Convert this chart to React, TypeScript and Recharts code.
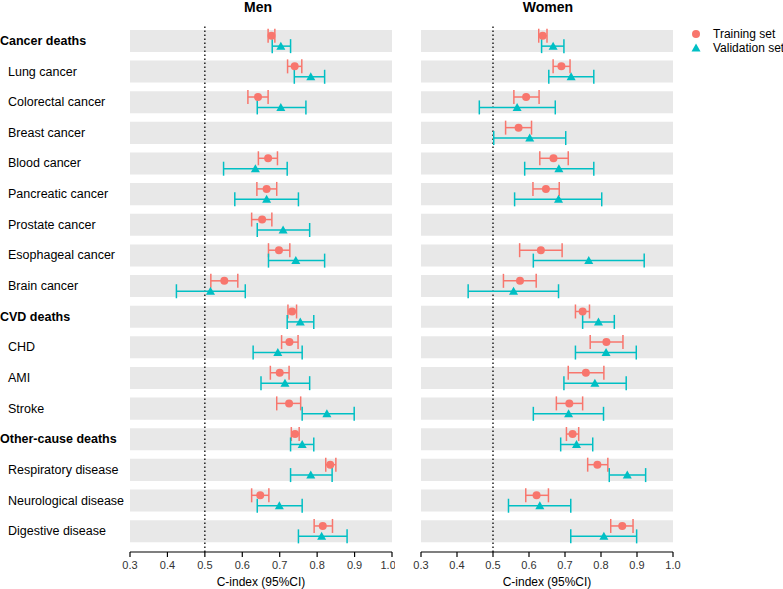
import {
  ErrorBar,
  ReferenceArea,
  ReferenceLine,
  Scatter,
  ScatterChart,
  XAxis,
  YAxis,
} from "recharts";

const RED = "#F8766D";
const TEAL = "#00BFC4";
const FONT = 'Arial, "Liberation Sans", sans-serif';

const labels = [
  "Cancer deaths",
  "Lung cancer",
  "Colorectal cancer",
  "Breast cancer",
  "Blood cancer",
  "Pancreatic cancer",
  "Prostate cancer",
  "Esophageal cancer",
  "Brain cancer",
  "CVD deaths",
  "CHD",
  "AMI",
  "Stroke",
  "Other-cause deaths",
  "Respiratory disease",
  "Neurological disease",
  "Digestive disease",
];
const groups = ["Cancer deaths", "CVD deaths", "Other-cause deaths"];
const xTicks = [0.3, 0.4, 0.5, 0.6, 0.7, 0.8, 0.9, 1.0];

// [estimate, lower, upper]; null = not estimated
type Est = [number, number, number] | null;

const menTrain: Est[] = [
  [0.678, 0.669, 0.687],
  [0.74, 0.721, 0.759],
  [0.642, 0.615, 0.669],
  null,
  [0.669, 0.643, 0.694],
  [0.665, 0.639, 0.692],
  [0.653, 0.625, 0.679],
  [0.698, 0.67, 0.727],
  [0.552, 0.516, 0.588],
  [0.733, 0.722, 0.745],
  [0.726, 0.705, 0.749],
  [0.7, 0.675, 0.725],
  [0.725, 0.692, 0.756],
  [0.741, 0.731, 0.752],
  [0.835, 0.823, 0.85],
  [0.648, 0.625, 0.671],
  [0.815, 0.792, 0.841],
];
const menValid: Est[] = [
  [0.703, 0.68, 0.729],
  [0.783, 0.739, 0.82],
  [0.703, 0.64, 0.77],
  null,
  [0.635, 0.55, 0.72],
  [0.665, 0.58, 0.75],
  [0.709, 0.64, 0.78],
  [0.743, 0.67, 0.82],
  [0.515, 0.424, 0.608],
  [0.755, 0.72, 0.791],
  [0.695, 0.629, 0.76],
  [0.714, 0.65, 0.78],
  [0.826, 0.76, 0.899],
  [0.76, 0.729, 0.791],
  [0.783, 0.729, 0.84],
  [0.699, 0.64, 0.76],
  [0.812, 0.75, 0.88],
];
const womenTrain: Est[] = [
  [0.638, 0.627, 0.65],
  [0.69, 0.667, 0.714],
  [0.592, 0.558, 0.628],
  [0.571, 0.535, 0.607],
  [0.668, 0.63, 0.709],
  [0.647, 0.611, 0.684],
  null,
  [0.633, 0.574, 0.692],
  [0.575, 0.529, 0.62],
  [0.749, 0.729, 0.768],
  [0.815, 0.77, 0.861],
  [0.758, 0.709, 0.808],
  [0.712, 0.676, 0.749],
  [0.721, 0.704, 0.738],
  [0.79, 0.763, 0.819],
  [0.621, 0.591, 0.654],
  [0.859, 0.827, 0.889],
];
const womenValid: Est[] = [
  [0.667, 0.635, 0.697],
  [0.717, 0.655, 0.78],
  [0.567, 0.462, 0.673],
  [0.602, 0.502, 0.702],
  [0.683, 0.588, 0.78],
  [0.682, 0.56, 0.802],
  null,
  [0.766, 0.612, 0.92],
  [0.557, 0.431, 0.682],
  [0.793, 0.749, 0.837],
  [0.814, 0.729, 0.898],
  [0.783, 0.697, 0.87],
  [0.71, 0.612, 0.807],
  [0.732, 0.688, 0.777],
  [0.873, 0.823, 0.924],
  [0.63, 0.543, 0.716],
  [0.808, 0.716, 0.899],
];

const build = (rows: Est[], shift: number) =>
  rows.flatMap((r, i) =>
    r ? [{ x: r[0], y: i + shift, err: [r[0] - r[1], r[2] - r[0]] }] : []
  );

const Circle = (p: any) => <circle cx={p.cx} cy={p.cy} r={4} fill={RED} />;
const Tri = (p: any) => (
  <path
    d={`M${p.cx},${p.cy - 4.5}L${p.cx + 4.5},${p.cy + 3.5}L${p.cx - 4.5},${p.cy + 3.5}Z`}
    fill={TEAL}
  />
);

const RowTick = (p: any) => {
  const name = labels[p.payload.value];
  const bold = groups.includes(name);
  return (
    <text
      x={bold ? 0 : 8}
      y={p.y}
      dy={4}
      textAnchor="start"
      fontSize={12.5}
      fontWeight={bold ? "bold" : "normal"}
      fill="#000"
      fontFamily={FONT}
    >
      {name}
    </text>
  );
};

const Panel = ({
  train,
  valid,
  showLabels,
  width,
  margin,
}: {
  train: Est[];
  valid: Est[];
  showLabels: boolean;
  width: number;
  margin: any;
}) => (
  <ScatterChart width={width} height={589} margin={margin}>
    {labels.map((_, i) => (
      <ReferenceArea
        key={i}
        x1={0.3}
        x2={1.0}
        y1={i - 0.36}
        y2={i + 0.36}
        fill="#E8E8E8"
        fillOpacity={1}
        stroke="none"
      />
    ))}
    <ReferenceLine x={0.5} stroke="#000" strokeDasharray="1.5 2.5" strokeWidth={1.3} />
    <XAxis
      type="number"
      dataKey="x"
      domain={[0.3, 1.0]}
      ticks={xTicks}
      tickFormatter={(v: number) => v.toFixed(1)}
      height={37}
      stroke="#000"
      strokeWidth={1.2}
      tickSize={5}
      tickMargin={4}
      tick={{ fontSize: 11, fill: "#333", fontFamily: FONT }}
      label={{
        value: "C-index (95%CI)",
        position: "insideBottom",
        offset: 0,
        dy: -3,
        fontSize: 12,
        fill: "#000",
        fontFamily: FONT,
      }}
    />
    <YAxis
      type="number"
      dataKey="y"
      domain={[-0.52, 16.68]}
      reversed
      ticks={labels.map((_, i) => i)}
      hide={!showLabels}
      width={130}
      axisLine={false}
      tickLine={false}
      tick={<RowTick />}
      interval={0}
    />
    <Scatter data={build(train, -0.17)} shape={<Circle />} isAnimationActive={false}>
      <ErrorBar dataKey="err" direction="x" width={7} stroke={RED} strokeWidth={1.5} />
    </Scatter>
    <Scatter data={build(valid, 0.17)} shape={<Tri />} isAnimationActive={false}>
      <ErrorBar dataKey="err" direction="x" width={7} stroke={TEAL} strokeWidth={1.5} />
    </Scatter>
  </ScatterChart>
);

export default function App() {
  const title = {
    position: "absolute" as const,
    top: -1,
    fontSize: 14,
    fontWeight: "bold" as const,
    textAlign: "center" as const,
    width: 120,
  };
  return (
    <div
      style={{
        position: "absolute",
        left: 0,
        top: 0,
        width: 783,
        height: 589,
        fontFamily: FONT,
        background: "#fff",
        overflow: "hidden",
      }}
    >
      <div style={{ ...title, left: 258 - 60 }}>Men</div>
      <div style={{ ...title, left: 548 - 60 }}>Women</div>
      <div style={{ position: "absolute", left: 0, top: 0 }}>
        <Panel
          train={menTrain}
          valid={menValid}
          showLabels
          width={395}
          margin={{ top: 25, right: 3, left: 0, bottom: 0 }}
        />
      </div>
      <div style={{ position: "absolute", left: 390, top: 0 }}>
        <Panel
          train={womenTrain}
          valid={womenValid}
          showLabels={false}
          width={300}
          margin={{ top: 25, right: 17, left: 31, bottom: 0 }}
        />
      </div>
      <svg style={{ position: "absolute", left: 680, top: 24 }} width={103} height={34}>
        <circle cx={16} cy={10} r={4} fill={RED} />
        <path d="M16,19.5L20.5,27.5L11.5,27.5Z" fill={TEAL} />
        <text x={33} y={14} fontSize={12} fontFamily={FONT} fill="#000">
          Training set
        </text>
        <text x={33} y={28} fontSize={12} fontFamily={FONT} fill="#000">
          Validation set
        </text>
      </svg>
    </div>
  );
}
